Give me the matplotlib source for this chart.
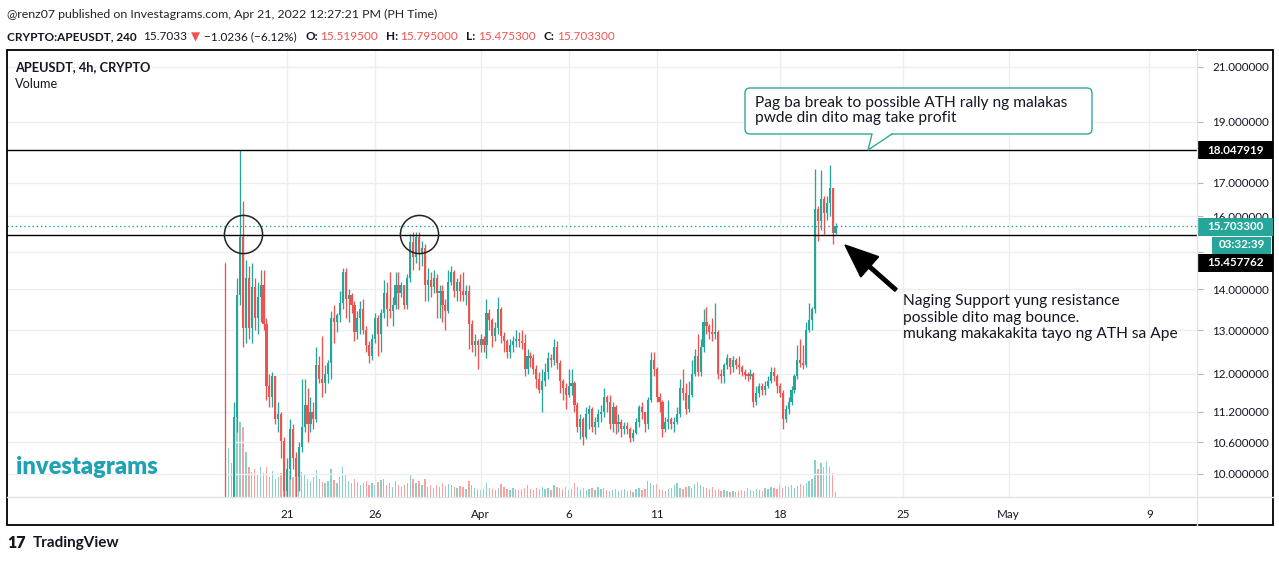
import datetime as dt
import matplotlib
matplotlib.use("Agg")
import matplotlib.pyplot as plt
import matplotlib.dates as mdates
from matplotlib.patches import Rectangle, FancyBboxPatch, Polygon, FancyArrow
from matplotlib.ticker import NullLocator, NullFormatter

plt.rcParams['font.family'] = ['Lato', 'DejaVu Sans']

W, H = 1279, 562

# ---------------- data ----------------
last_bar_open = dt.datetime(2022, 4, 21, 4, 0)
bar_hours = 4
first_open = 9.0

closes = [
    # Mar 17 - 21
    7.5, 8.3, 8.9, 11.1, 13.86, 15.4, 13.05, 14.3, 13.05, 14.05, 13.3, 13.8, 14.1, 13.15,
    11.75, 11.5, 11.95, 11.06, 11.15, 10.62, 9.7, 10.1, 10.86, 10.3, 9.95, 10.5, 10.9,
    # Mar 21 - 26
    11.35, 10.95, 11.2, 11.05, 12.2, 11.9, 11.8, 12.0, 12.25, 13.3, 13.2, 13.35, 13.65, 14.45,
    13.75, 13.85, 13.6, 12.95, 13.3, 13.5, 13.0, 12.65, 12.4, 12.8, 13.3, 12.9, 13.4,
    # Mar 26 - Mar 31
    13.9, 13.5, 13.45, 13.6, 14.1, 13.9, 14.1, 13.6, 14.3, 15.25, 14.85, 15.4, 14.95, 15.1,
    14.1, 14.25, 14.05, 14.3, 13.9, 13.95, 13.6, 13.45, 14.2, 14.45, 13.95, 14.2, 13.95,
    # Apr 1 - 5
    13.85, 13.95, 13.15, 12.65, 12.75, 12.65, 12.8, 12.65, 13.4, 13.25, 12.85, 13.05, 13.5, 12.85,
    12.75, 12.5, 12.65, 12.75, 12.8, 12.75, 12.7, 12.1, 12.4, 12.35, 12.1, 11.9, 11.65, 11.85,
    # Apr 6 - 10
    12.05, 12.35, 12.3, 12.6, 12.25, 11.85, 11.7, 11.55, 11.75, 11.8, 11.35, 10.9, 11.05, 10.7,
    11.15, 11.25, 10.9, 11.0, 11.15, 11.2, 11.5, 11.4, 10.95, 11.3, 10.95, 11.0, 10.85, 10.92,
    # Apr 11 - 15
    10.85, 10.68, 10.78, 11.0, 11.3, 11.2, 10.95, 11.45, 12.3, 12.1, 11.5, 11.4, 10.85, 11.0,
    11.05, 10.95, 11.0, 11.15, 11.7, 11.6, 11.25, 11.55, 12.0, 12.4, 12.05, 12.6, 13.2,
    # Apr 15 - 19
    13.1, 12.95, 12.9, 12.95, 12.0, 11.95, 12.2, 12.35, 12.15, 12.3, 12.2, 12.15, 12.05, 11.98,
    11.95, 12.0, 11.4, 11.6, 11.75, 11.65, 11.75, 11.85, 12.05, 11.95, 11.75, 11.6, 11.05, 11.25,
    # Apr 19 - 21
    11.4, 11.65, 11.95, 12.3, 12.25, 12.2, 13.0, 13.25, 13.5, 16.2, 15.85, 16.5, 16.1, 16.4,
    16.85, 15.5195, 15.7033,
]

highs = [
    14.7, 9.2, 9.5, 11.4, 14.3, 18.047919, 16.45, 14.77, 14.6, 14.7, 14.3, 14.2, 14.5, 14.5,
    13.3, 12.0, 12.05, 11.95, 11.4, 11.2, 10.7, 10.3, 11.05, 10.95, 10.4, 10.6, 11.9,
    11.9, 11.7, 11.5, 11.4, 12.6, 12.4, 12.85, 12.2, 12.3, 13.45, 13.6, 13.4, 13.95, 14.55,
    14.55, 14.0, 13.9, 13.7, 13.45, 13.7, 13.75, 13.1, 12.75, 12.9, 13.4, 13.35, 13.5,
    14.25, 14.2, 14.45, 13.8, 14.45, 14.45, 14.2, 14.1, 14.4, 15.5, 15.55, 15.55, 15.55, 15.3,
    15.2, 14.55, 14.45, 14.5, 14.4, 14.1, 14.1, 13.75, 14.5, 14.6, 14.5, 14.3, 14.4,
    14.45, 14.1, 14.1, 13.25, 12.9, 12.8, 12.9, 12.85, 13.75, 13.5, 13.3, 13.2, 13.8, 13.55,
    12.95, 12.8, 12.8, 12.85, 13.0, 12.95, 13.0, 12.9, 12.55, 12.5, 12.45, 12.2, 12.05, 12.1,
    12.25, 12.5, 12.45, 12.8, 12.75, 12.3, 11.9, 11.8, 12.1, 12.1, 11.85, 11.4, 11.15, 11.1,
    11.3, 11.35, 11.3, 11.1, 11.25, 11.35, 11.7, 11.55, 11.55, 11.4, 11.35, 11.15, 11.05, 11.0,
    11.0, 10.9, 10.85, 11.08, 11.35, 11.4, 11.2, 11.5, 12.5, 12.5, 12.15, 11.6, 11.45, 11.1,
    11.45, 11.1, 11.1, 11.3, 11.9, 12.1, 11.8, 11.85, 12.3, 12.55, 12.9, 12.8, 13.5,
    13.55, 13.15, 13.3, 13.65, 13.0, 12.1, 12.25, 12.45, 12.35, 12.4, 12.35, 12.4, 12.2, 12.1,
    12.05, 12.1, 12.05, 11.75, 11.8, 11.8, 11.85, 11.95, 12.15, 12.15, 12.0, 11.8, 11.65, 11.35,
    11.5, 11.75, 12.0, 12.65, 12.8, 12.65, 13.2, 13.65, 13.55, 17.45, 16.3, 17.4, 16.6, 16.6,
    17.55, 16.85, 15.795,
]

lows = [
    5.0, 7.0, 8.0, 8.7, 10.8, 13.6, 12.6, 12.7, 12.8, 12.7, 13.0, 12.9, 13.2, 13.0,
    11.45, 11.3, 11.3, 10.95, 10.8, 10.3, 9.4, 9.4, 9.9, 10.1, 9.5, 9.7, 10.4,
    10.8, 10.6, 10.8, 10.85, 11.0, 11.8, 11.5, 11.6, 11.8, 11.9, 12.7, 12.95, 13.2, 13.5,
    13.3, 13.2, 13.4, 12.75, 12.8, 12.9, 12.9, 12.5, 12.25, 12.3, 12.7, 12.4, 12.5,
    13.3, 13.1, 13.3, 13.1, 13.5, 13.5, 13.8, 13.5, 13.5, 14.2, 14.5, 14.7, 14.5, 14.6,
    13.7, 13.7, 13.8, 13.9, 13.3, 13.3, 13.2, 13.0, 13.4, 14.1, 13.8, 13.7, 13.7,
    13.7, 13.6, 12.55, 12.5, 12.4, 12.1, 12.5, 12.5, 12.35, 13.0, 12.6, 12.75, 12.9, 12.7,
    12.5, 12.35, 12.35, 12.5, 12.6, 12.6, 12.55, 11.95, 12.0, 12.15, 12.0, 11.7, 11.6, 11.2,
    11.75, 11.9, 12.15, 12.2, 12.1, 11.6, 11.45, 11.25, 11.5, 11.55, 11.2, 10.8, 10.65, 10.55,
    10.65, 10.85, 10.8, 10.75, 10.9, 11.0, 11.1, 11.2, 10.85, 10.8, 10.75, 10.8, 10.7, 10.75,
    10.75, 10.6, 10.62, 10.75, 10.9, 11.05, 10.8, 10.85, 11.4, 11.95, 11.4, 11.2, 10.7, 10.8,
    10.85, 10.85, 10.8, 10.95, 11.1, 11.45, 11.15, 11.2, 11.5, 11.95, 11.95, 11.95, 12.5,
    12.9, 12.8, 12.75, 12.8, 11.9, 11.8, 11.8, 12.1, 12.0, 12.05, 12.1, 12.0, 11.95, 11.9,
    11.85, 11.9, 11.3, 11.35, 11.5, 11.55, 11.55, 11.7, 11.8, 11.85, 11.6, 11.5, 10.85, 11.0,
    11.15, 11.35, 11.6, 11.9, 12.15, 12.1, 12.15, 12.95, 13.0, 13.4, 15.3, 15.6, 15.5, 15.9,
    16.0, 15.2, 15.4753,
]

volumes = [
    235, 49, 34, 80, 90, 75, 70, 45, 30, 25, 28, 22, 30, 24, 30, 20, 26, 18, 20, 24, 32, 28, 26, 20, 22, 30, 25,
    22, 18, 16, 20, 27, 18, 15, 14, 16, 28, 17, 14, 20, 30, 22, 16, 14, 18, 15, 12, 14, 16, 12, 14, 12, 15, 17,
    18, 12, 14, 10, 16, 12, 10, 12, 14, 22, 18, 14, 16, 12, 18, 10, 12, 9, 12, 10, 14, 11, 13, 12, 10, 9, 11,
    10, 8, 16, 12, 9, 8, 7, 8, 14, 9, 8, 7, 9, 13, 10, 8, 7, 9, 8, 7, 8, 9, 12, 8, 7, 9, 8, 10,
    8, 9, 7, 12, 10, 9, 8, 10, 7, 8, 14, 10, 8, 9, 7, 8, 9, 7, 10, 8, 9, 7, 6, 7, 8, 6, 7, 8,
    6, 7, 5, 8, 9, 7, 8, 16, 14, 12, 13, 8, 7, 6, 8, 9, 12, 14, 9, 8, 10, 11, 9, 13, 15, 12, 10,
    9, 8, 10, 7, 8, 6, 7, 6, 5, 6, 5, 6, 7, 6, 9, 7, 6, 8, 7, 6, 9, 8, 10, 9, 8, 12, 9, 11,
    10, 12, 9, 11, 13, 12, 14, 16, 18, 37, 28, 34, 30, 36, 30, 24, 5,
]

resistance_level = 18.047919
support_level = 15.457762
circle_dates = [dt.datetime(2022, 3, 18, 12), dt.datetime(2022, 3, 28, 12)]
circle_prices = [15.5, 15.5]

price_ticks = [21, 19, 17, 16, 15, 14, 13, 12, 11.2, 10.6, 10]
hidden_price_labels = [15]          # covered by the countdown / support labels
date_ticks = [dt.datetime(2022, 3, 21), dt.datetime(2022, 3, 26), dt.datetime(2022, 4, 1),
              dt.datetime(2022, 4, 6), dt.datetime(2022, 4, 11), dt.datetime(2022, 4, 18),
              dt.datetime(2022, 4, 25), dt.datetime(2022, 5, 1), dt.datetime(2022, 5, 9)]
date_labels = ['21', '26', 'Apr', '6', '11', '18', '25', 'May', '9']

UP = '#26a69a'
DOWN = '#ef5350'
TXT = '#131722'

# ---------------- figure ----------------
n = min(len(closes), len(highs), len(lows), len(volumes))
closes, highs, lows, volumes = closes[:n], highs[:n], lows[:n], volumes[:n]
opens = [first_open] + closes[:-1]
times = [last_bar_open - dt.timedelta(hours=bar_hours * (n - 1 - i)) for i in range(n)]
xs = mdates.date2num(times)
period = bar_hours / 24.0

fig = plt.figure(figsize=(W / 100, H / 100), dpi=100)
fig.patch.set_facecolor('white')

L, R, T, B = 7, 1197, 51, 497
ax = fig.add_axes([L / W, 1 - B / H, (R - L) / W, (B - T) / H])
ax2 = ax.twinx()
ax.set_zorder(ax2.get_zorder() + 1)
ax.patch.set_visible(False)

# x range from calibration (17.6 px / day, Mar 21 at px 287)
ref = mdates.date2num(dt.datetime(2022, 3, 21))
ax.set_xlim(ref - (287 - L) / 17.6, ref + (R - 287) / 17.6)
ax.set_yscale('log')
ax.set_ylim(9.589, 21.62)

# volume
vcol = [UP + '88' if c >= o else DOWN + '88' for o, c in zip(opens, closes)]
ax2.bar(xs, volumes, width=period * 0.45, color=vcol, linewidth=0)
ax2.set_ylim(0, max(volumes) * (B - T) / 235.0)
ax2.set_yticks([])
for s in ax2.spines.values():
    s.set_visible(False)

# candles
cols = [UP if c >= o else DOWN for o, c in zip(opens, closes)]
ax.vlines(xs, lows, highs, colors=cols, linewidth=0.95, zorder=3)
bottoms = [min(o, c) for o, c in zip(opens, closes)]
heights = [max(abs(c - o), min(o, c) * 0.004) for o, c in zip(opens, closes)]
ax.bar(xs, heights, bottom=bottoms, width=period * 0.74, color=cols, linewidth=0, zorder=4)

# levels
ax.axhline(resistance_level, color='black', lw=1.0, zorder=5)
ax.axhline(support_level, color='black', lw=1.0, zorder=5)
ax.axhline(closes[-1], color=UP, lw=1.0, ls=(0, (1, 2)), zorder=5)

# circles
ax.plot(mdates.date2num(circle_dates), circle_prices, ls='none', marker='o', ms=27.5,
        mfc='none', mec='#222222', mew=1.1, zorder=6)

# axes styling
ax.yaxis.tick_right()
ax.set_yticks(price_ticks)
ax.set_yticklabels(['' if p in hidden_price_labels else f"{p:.6f}" for p in price_ticks])
ax.yaxis.set_minor_locator(NullLocator())
ax.yaxis.set_minor_formatter(NullFormatter())
ax.set_xticks(mdates.date2num(date_ticks))
ax.set_xticklabels(date_labels)
ax.tick_params(axis='y', which='major', direction='out', length=4, color='#b2b5be',
               pad=7, labelsize=8.4, labelcolor=TXT)
ax.tick_params(axis='x', length=0, pad=9, labelsize=8.4, labelcolor=TXT)
ax.grid(True, which='major', color='#eceef1', lw=1.0, zorder=0)
for s in ax.spines.values():
    s.set_visible(False)

# ---------------- overlay (pixel coordinates) ----------------
ov = fig.add_axes([0, 0, 1, 1], zorder=20)
ov.set_xlim(0, W)
ov.set_ylim(H, 0)
ov.axis('off')
ov.patch.set_alpha(0)

# frame
ov.add_patch(Rectangle((7, 50), 1266, 475, fill=False, ec='black', lw=1.3))
ov.plot([7, 1273], [497, 497], color='#e0e3eb', lw=1)
ov.plot([1197, 1197], [50, 525], color='#e0e3eb', lw=1)

# header
ov.text(7, 14, "@renz07 published on Investagrams.com, Apr 21, 2022 12:27:21 PM (PH Time)",
        va='center', ha='left', fontsize=8.9, color='#222222')
hdr = [
    (7, "CRYPTO:APEUSDT, 240", TXT, 'bold'),
    (143, "15.7033", TXT, 'normal'),
    (191, "\u25BC", DOWN, 'normal'),
    (204, "\u22121.0236 (\u22126.12%)", TXT, 'normal'),
    (306, "O:", TXT, 'bold'),
    (320, "15.519500", DOWN, 'normal'),
    (386, "H:", TXT, 'bold'),
    (400, "15.795000", DOWN, 'normal'),
    (466, "L:", TXT, 'bold'),
    (478, "15.475300", DOWN, 'normal'),
    (543, "C:", TXT, 'bold'),
    (557, "15.703300", DOWN, 'normal'),
]
for x, s, c, wgt in hdr:
    ov.text(x, 37, s, va='center', ha='left', fontsize=8.5, color=c, fontweight=wgt,
            family=['Lato', 'DejaVu Sans'])

# legend
ov.text(15, 67, "APEUSDT, 4h, CRYPTO", va='center', fontsize=9.2, fontweight='bold', color=TXT)
ov.text(15, 84, "Volume", va='center', fontsize=9.2, color=TXT)

# price labels
def price_box(y, text, fc, x0=1198, w=75, h=18):
    ov.add_patch(Rectangle((x0, y - h / 2), w, h, fc=fc, ec='none'))
    ov.text(x0 + w / 2, y, text, color='white', fontsize=8.4, fontweight='bold',
            ha='center', va='center')

price_box(150, f"{resistance_level:.6f}", 'black')
price_box(227, f"{closes[-1]:.6f}", UP)
price_box(245, "03:32:39", UP, x0=1212, w=59, h=17)
price_box(263, f"{support_level:.6f}", 'black')

# callout
ov.add_patch(FancyBboxPatch((745, 88), 347, 46, boxstyle='round,pad=0,rounding_size=5',
                            fc='white', ec='#2fa89c', lw=1.0))
ov.add_patch(Polygon([(872, 133), (868, 150), (892, 133)], closed=True, fc='white', ec='none'))
ov.plot([872, 868, 892], [134, 150, 134], color='#2fa89c', lw=1.0)
ov.text(755, 103, "Pag ba break to possible ATH rally ng malakas", va='center', fontsize=11.2, color=TXT)
ov.text(755, 118, "pwde din dito mag take profit", va='center', fontsize=11.2, color=TXT)

# arrow + note
ov.add_patch(FancyArrow(896, 290, -51, -45, width=3.5, head_width=27, head_length=33,
                        length_includes_head=True, fc='black', ec='black'))
ov.text(903, 301, "Naging Support yung resistance", va='center', fontsize=11.2, color=TXT)
ov.text(903, 318, "possible dito mag bounce.", va='center', fontsize=11.2, color=TXT)
ov.text(903, 334, "mukang makakakita tayo ng ATH sa Ape", va='center', fontsize=11.2, color=TXT)

# logos
ov.text(16, 467, "investagrams", va='center', fontsize=17, fontweight='heavy', color='#1fa3b4')
ov.text(7, 543, "17", va='center', fontsize=11.5, fontweight='heavy', color='#131722')
ov.text(33, 543, "TradingView", va='center', fontsize=11, fontweight='bold', color='#131722')

fig.savefig("out.png", dpi=100, facecolor='white')
